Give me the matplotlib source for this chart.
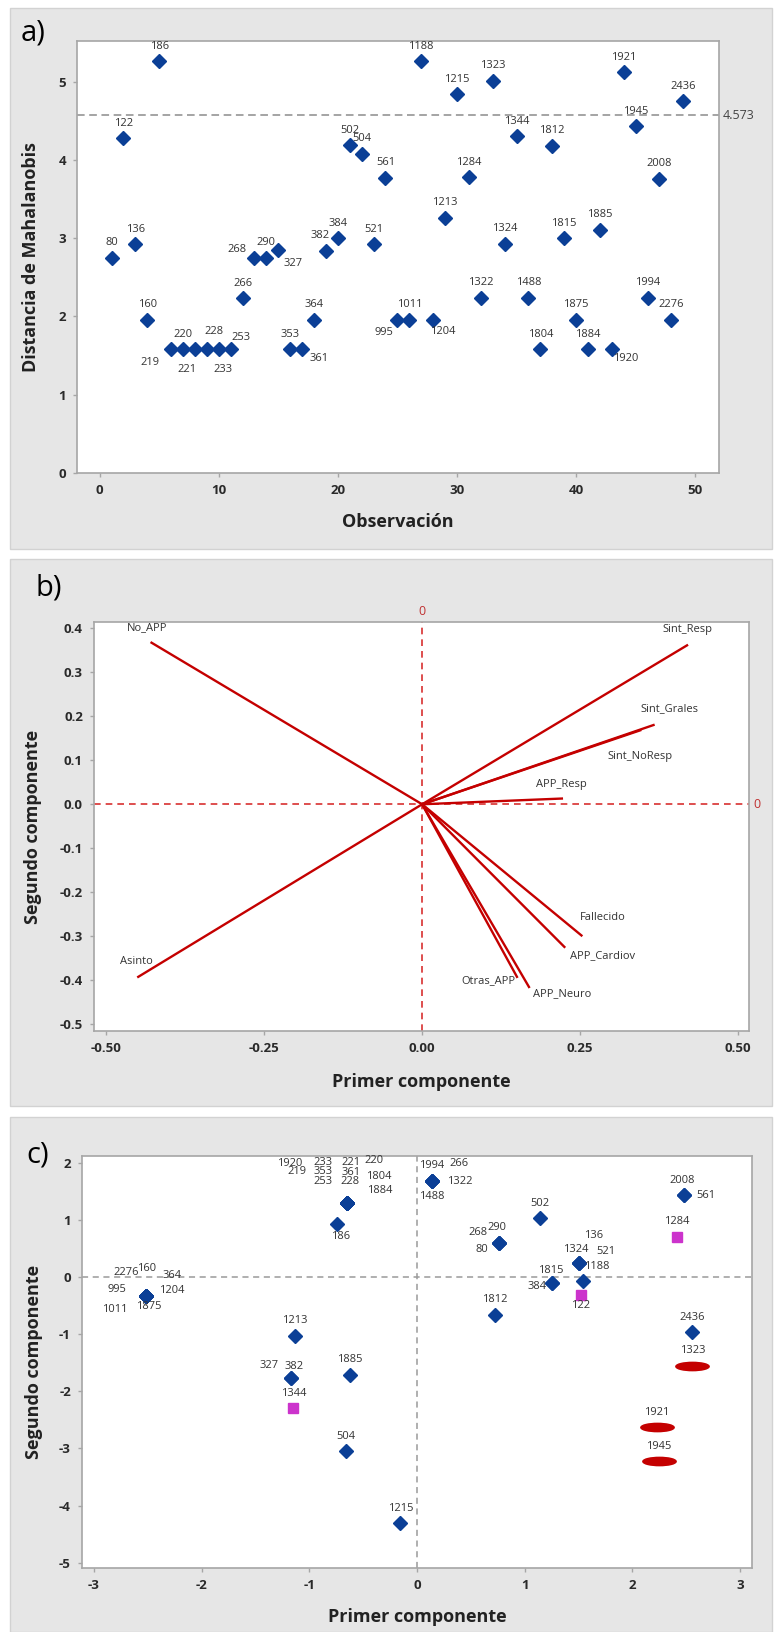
import matplotlib
matplotlib.use("Agg")
import matplotlib.pyplot as plt
from matplotlib.patches import Rectangle
from matplotlib.markers import MarkerStyle
from matplotlib.transforms import Affine2D

plt.rcParams['font.family'] = ['Open Sans', 'DejaVu Sans']
plt.rcParams['axes.unicode_minus'] = False

W, H = 774, 1632

# observation ids (same order in a and c)
ids = [80, 122, 136, 160, 186, 219, 220, 221, 228, 233, 253, 266, 268, 290,
       327, 353, 361, 364, 382, 384, 502, 504, 521, 561, 995, 1011, 1188,
       1204, 1213, 1215, 1284, 1322, 1323, 1324, 1344, 1488, 1804, 1812,
       1815, 1875, 1884, 1885, 1920, 1921, 1945, 1994, 2008, 2276, 2436]
observacion = list(range(1, len(ids) + 1))

# a) Mahalanobis distance
mahal = [2.75, 4.28, 2.92, 1.96, 5.26, 1.58, 1.58, 1.58, 1.58, 1.58, 1.58,
         2.23, 2.75, 2.75, 2.85, 1.58, 1.58, 1.96, 2.84, 3.00, 4.19, 4.08,
         2.92, 3.77, 1.96, 1.96, 5.26, 1.96, 3.26, 4.84, 3.78, 2.24, 5.01,
         2.93, 4.30, 2.24, 1.58, 4.18, 3.00, 1.96, 1.58, 3.11, 1.58, 5.12,
         4.43, 2.24, 3.76, 1.96, 4.75]
limite = 4.573

# b) loadings
variables = ["No_APP", "Sint_Resp", "Sint_Grales", "Sint_NoResp", "APP_Resp",
             "Fallecido", "APP_Cardiov", "APP_Neuro", "Otras_APP", "Asinto"]
carga1 = [-0.428, 0.419, 0.366, 0.345, 0.221, 0.252, 0.225, 0.169, 0.150, -0.449]
carga2 = [0.367, 0.361, 0.180, 0.168, 0.013, -0.298, -0.324, -0.415, -0.392, -0.392]

# c) scores
pc1 = [0.76, 1.52, 1.50, -2.52, -0.74, -0.65, -0.65, -0.65, -0.65, -0.65,
       -0.65, 0.139, 0.76, 0.76, -1.17, -0.65, -0.65, -2.52, -1.17, 1.25,
       1.14, -0.657, 1.50, 2.478, -2.52, -2.52, 1.54, -2.52, -1.13, -0.155,
       2.416, 0.139, 2.556, 1.50, -1.147, 0.139, -0.65, 0.72, 1.25, -2.52,
       -0.65, -0.626, -0.65, 2.224, 2.245, 0.139, 2.478, -2.52, 2.556]
pc2 = [0.60, -0.315, 0.24, -0.33, 0.92, 1.29, 1.29, 1.29, 1.29, 1.29, 1.29,
       1.68, 0.60, 0.60, -1.77, 1.29, 1.29, -0.33, -1.77, -0.11, 1.03, -3.05,
       0.24, 1.43, -0.33, -0.33, -0.07, -0.33, -1.03, -4.31, 0.70, 1.68,
       -1.556, 0.24, -2.30, 1.68, 1.29, -0.66, -0.11, -0.33, 1.29, -1.71,
       1.29, -2.63, -3.22, 1.68, 1.43, -0.33, -0.97]
grupo = ["n"] * len(ids)
for k in (122, 1284, 1344):
    grupo[ids.index(k)] = "s"
for k in (1323, 1921, 1945):
    grupo[ids.index(k)] = "e"

# label offsets in pixels (dx, dy downwards); default is straight above
off_a = {219: (-21, 13), 221: (-8, 20), 228: (7, -18), 233: (4, 20),
         253: (10, -12), 268: (-17, -8), 327: (15, 14), 361: (17, 9),
         382: (-6, -15), 995: (-13, 13), 1204: (10, 12), 1920: (14, 9)}
off_b = {"No_APP": (-4, -15), "Sint_Resp": (0, -16), "Sint_Grales": (16, -16),
         "Sint_NoResp": (0, 26), "APP_Resp": (0, -14), "Fallecido": (21, -18),
         "APP_Cardiov": (38, 9), "APP_Neuro": (33, 7), "Otras_APP": (-29, 4),
         "Asinto": (-2, -15)}
off_c = {2276: (-19, -23), 160: (1, -27), 364: (27, -20), 995: (-29, -6),
         1204: (26, -5), 1011: (-31, 14), 1875: (3, 11),
         1920: (-57, -40), 233: (-24, -41), 221: (4, -41), 220: (27, -43),
         219: (-50, -32), 353: (-24, -32), 361: (4, -31), 1804: (32, -27),
         253: (-24, -22), 228: (3, -22), 1884: (33, -13),
         186: (3, 12), 327: (-22, -13), 382: (3, -12),
         1994: (0, -15), 266: (27, -17), 1322: (28, 1), 1488: (0, 16),
         2008: (-2, -15), 561: (22, 0),
         268: (-21, -10), 290: (-2, -15), 80: (-17, 7),
         136: (15, -28), 1324: (-3, -14), 521: (27, -12), 1188: (14, -14),
         1815: (-1, -13), 384: (-15, 3), 122: (0, 11)}

azul = "#0b3f96"
rojo = "#c40000"
gris_txt = "#333333"


def rect_px(l, t, r, b):
    return [l / W, 1 - b / H, (r - l) / W, (b - t) / H]


def panel(fig, l, t, r, b):
    x, y, w, h = rect_px(l, t, r, b)
    fig.add_artist(Rectangle((x, y), w, h, transform=fig.transFigure,
                             fc="#e6e6e6", ec="#d2d2d2", lw=1, zorder=-1))


def style(ax):
    for s in ax.spines.values():
        s.set_color("#a6a6a6")
        s.set_linewidth(1.2)
    ax.tick_params(direction="out", length=3, width=1, color="#a6a6a6",
                   labelsize=9.5, labelcolor="#2a2a2a", pad=5)
    for t in ax.get_xticklabels() + ax.get_yticklabels():
        t.set_fontweight("bold")


def etiqueta(ax, x, y, txt, off, fs=8):
    ax.annotate(txt, (x, y), xytext=(off[0], -off[1]),
                textcoords="offset pixels", ha="center", va="center",
                fontsize=fs, color=gris_txt, zorder=5)


fig = plt.figure(figsize=(W / 100, H / 100), dpi=100)

panel(fig, 10, 8, 772, 549)
panel(fig, 10, 559, 772, 1106)
panel(fig, 10, 1117, 772, 1632)

lab = dict(fontsize=13, fontweight="bold", color="#222222")

# ---- a) ----
ax = fig.add_axes(rect_px(77, 41, 719, 473))
ax.plot(observacion, mahal, "D", color=azul, ms=7, zorder=3)
ax.axhline(limite, color="#8c8c8c", ls=(0, (5, 3)), lw=1.1)
ax.text(1.006, limite, "4.573", transform=ax.get_yaxis_transform(),
        ha="left", va="center", fontsize=9, color="#444444")
for o, m, i in zip(observacion, mahal, ids):
    etiqueta(ax, o, m, str(i), off_a.get(i, (0, -15)))
ax.set_xlim(-1.9, 52)
ax.set_ylim(0, 5.52)
ax.set_xticks([0, 10, 20, 30, 40, 50])
ax.set_yticks([0, 1, 2, 3, 4, 5])
ax.set_xlabel("Observación", **lab)
ax.set_ylabel("Distancia de Mahalanobis", **lab)
ax.xaxis.set_label_coords(0.5, -0.093)
ax.yaxis.set_label_coords(-0.058, 0.5)
style(ax)
fig.text(21 / W, 1 - 33 / H, "a)", fontsize=21, va="center", ha="left")

# ---- b) ----
ax = fig.add_axes(rect_px(94, 622, 749, 1031))
ax.axhline(0, color="#d83030", ls=(0, (4, 3)), lw=1.2, zorder=1)
ax.axvline(0, color="#d83030", ls=(0, (4, 3)), lw=1.2, zorder=1)
for v, c1, c2 in zip(variables, carga1, carga2):
    ax.plot([0, c1], [0, c2], color=rojo, lw=1.7, zorder=3)
    etiqueta(ax, c1, c2, v, off_b[v], fs=8)
ax.text(0, 1.01, "0", transform=ax.get_xaxis_transform(), ha="center",
        va="bottom", fontsize=9, color="#c03030")
ax.text(1.006, 0, "0", transform=ax.get_yaxis_transform(), ha="left",
        va="center", fontsize=9, color="#c03030")
ax.set_xlim(-0.519, 0.517)
ax.set_ylim(-0.515, 0.414)
ax.set_xticks([-0.5, -0.25, 0, 0.25, 0.5])
ax.set_xticklabels(["-0.50", "-0.25", "0.00", "0.25", "0.50"])
ax.set_yticks([-0.5, -0.4, -0.3, -0.2, -0.1, 0, 0.1, 0.2, 0.3, 0.4])
ax.set_yticklabels(["-0.5", "-0.4", "-0.3", "-0.2", "-0.1", "0.0", "0.1",
                    "0.2", "0.3", "0.4"])
ax.set_xlabel("Primer componente", **lab)
ax.set_ylabel("Segundo componente", **lab)
ax.xaxis.set_label_coords(0.5, -0.103)
ax.yaxis.set_label_coords(-0.079, 0.5)
style(ax)
fig.text(36 / W, 1 - 588 / H, "b)", fontsize=21, va="center", ha="left")

# ---- c) ----
ax = fig.add_axes(rect_px(82, 1156, 752, 1568))
ax.axhline(0, color="#9a9a9a", ls=(0, (4, 3)), lw=1.1, zorder=1)
ax.axvline(0, color="#9a9a9a", ls=(0, (4, 3)), lw=1.1, zorder=1)
elipse = MarkerStyle("o", transform=Affine2D().scale(3.2, 0.8))
for x, y, g, i in zip(pc1, pc2, grupo, ids):
    if g == "n":
        ax.plot(x, y, "D", color=azul, ms=7, zorder=3)
    elif g == "s":
        ax.plot(x, y, "s", color="#cc33cc", ms=7, zorder=3)
    else:
        ax.plot(x, y, marker=elipse, color=rojo, ms=7.5, ls="none", zorder=3)
    etiqueta(ax, x, y, str(i), off_c.get(i, (0, -15)))
ax.set_xlim(-3.11, 3.11)
ax.set_ylim(-5.09, 2.115)
ax.set_xticks([-3, -2, -1, 0, 1, 2, 3])
ax.set_yticks([-5, -4, -3, -2, -1, 0, 1, 2])
ax.set_xlabel("Primer componente", **lab)
ax.set_ylabel("Segundo componente", **lab)
ax.xaxis.set_label_coords(0.5, -0.097)
ax.yaxis.set_label_coords(-0.058, 0.5)
style(ax)
fig.text(26 / W, 1 - 1155 / H, "c)", fontsize=21, va="center", ha="left")

fig.savefig("out.png", dpi=100)
